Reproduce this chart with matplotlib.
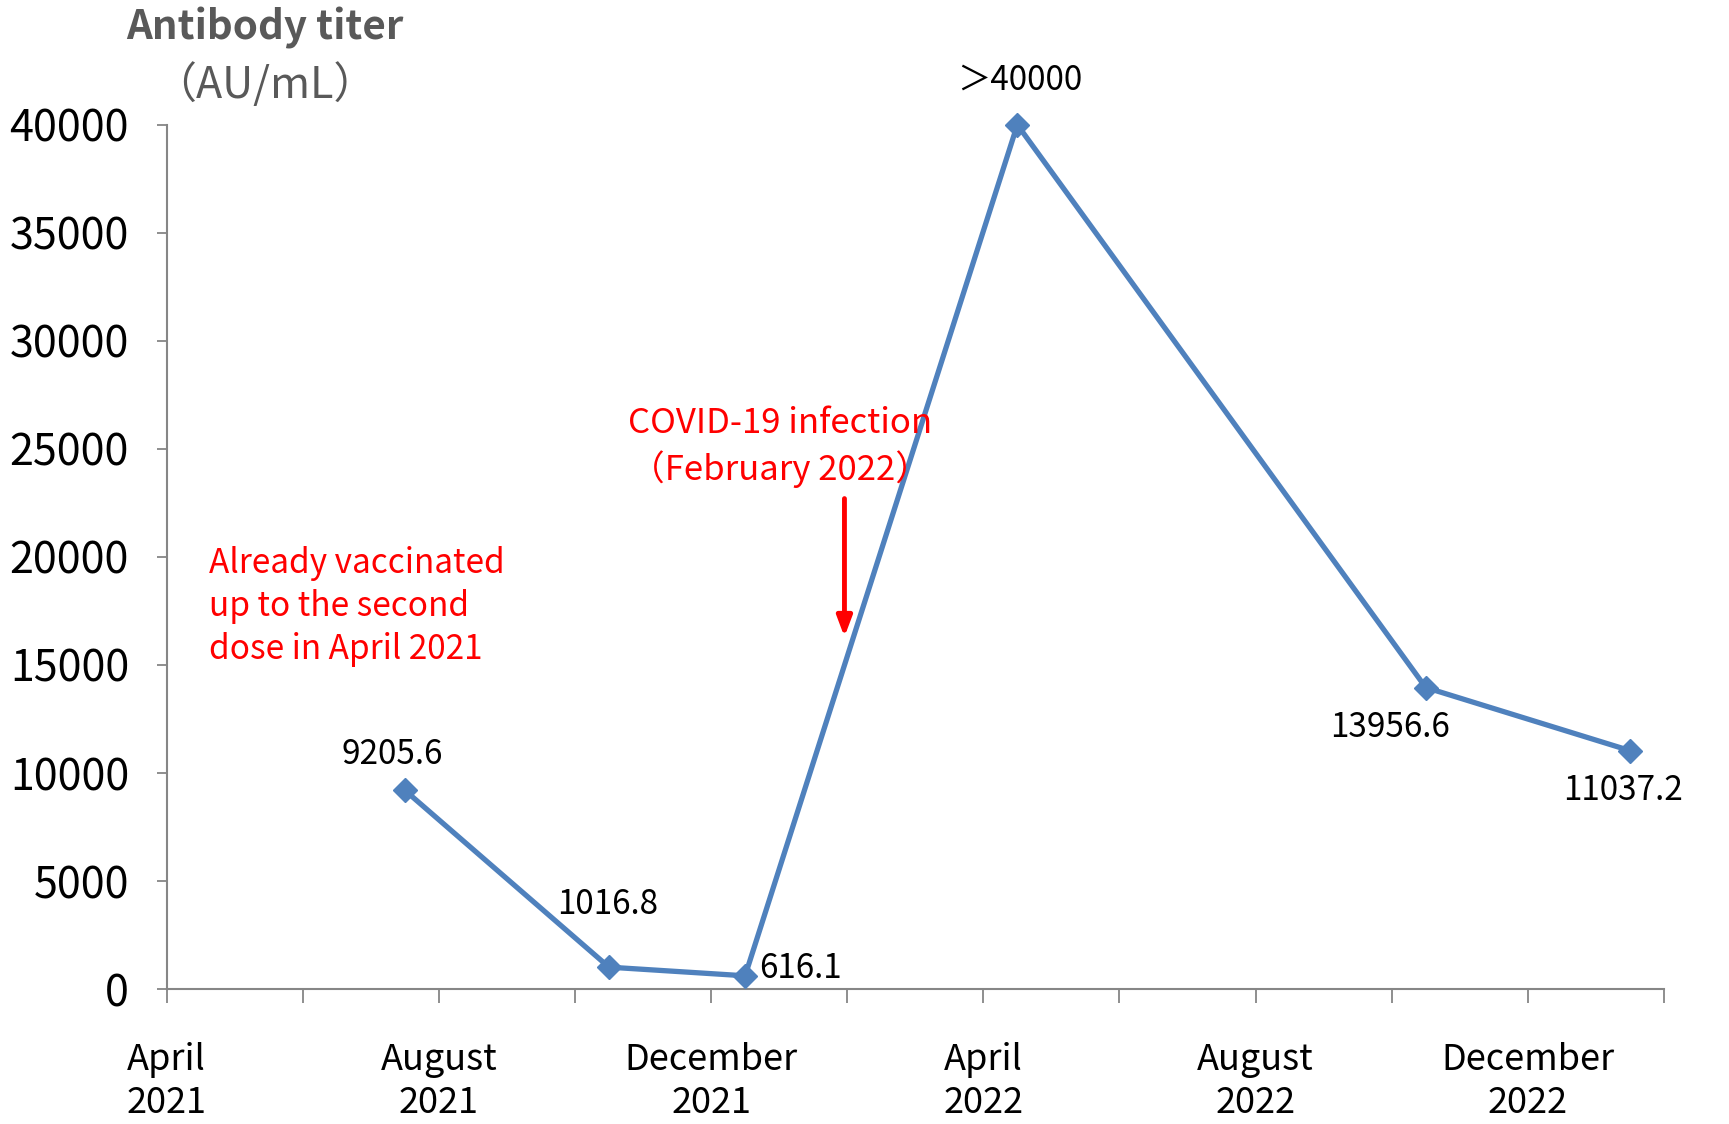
import matplotlib
matplotlib.use("Agg")
import matplotlib.pyplot as plt

# months after April 2021
months = [3.5, 6.5, 8.5, 12.5, 18.5, 21.5]
titer = [9205.6, 1016.8, 616.1, 40000, 13956.6, 11037.2]
point_labels = ["9205.6", "1016.8", "616.1", "＞40000", "13956.6", "11037.2"]
label_offsets = [(-9, 26), (-1, 45), (40, 5), (2, 32), (-26, -29), (-5, -29)]

tick_months = list(range(0, 23, 2))
tick_names = {0: "April\n2021", 4: "August\n2021", 8: "December\n2021",
              12: "April\n2022", 16: "August\n2022", 20: "December\n2022"}
yticks = list(range(0, 40001, 5000))

jp = ["Noto Sans CJK JP", "DejaVu Sans"]
blue = "#4F81BD"
grey = "#868686"

fig = plt.figure(figsize=(17.29, 11.24), dpi=100)
ax = fig.add_axes([0.0963, 0.120, 0.8661, 0.769])

ax.plot(months, titer, color=blue, lw=3.8, marker="D", ms=12, clip_on=False, zorder=3)

for x, y, s, (dx, dy) in zip(months, titer, point_labels, label_offsets):
    ax.annotate(s, (x, y), xytext=(dx, dy), textcoords="offset points",
                ha="center", va="center", fontsize=24, family=jp)

ax.set_xlim(0, 22)
ax.set_ylim(0, 40000)
ax.set_xticks(tick_months)
ax.set_xticklabels([tick_names.get(m, "") for m in tick_months], family=jp,
                   fontsize=26, linespacing=1.25)
ax.set_yticks(yticks)
ax.set_yticklabels([str(v) for v in yticks], family=jp, fontsize=31)
ax.tick_params(axis="x", direction="out", length=10, width=1.3, color=grey, pad=28)
ax.tick_params(axis="y", direction="out", length=7, width=1.3, color=grey, pad=20)

for side in ["top", "right"]:
    ax.spines[side].set_visible(False)
for side in ["left", "bottom"]:
    ax.spines[side].set_color(grey)
    ax.spines[side].set_linewidth(1.5)

# annotations
ax.text(0.62, 17700, "Already vaccinated\nup to the second\ndose in April 2021",
        color="red", fontsize=24, family=jp, ha="left", va="center", linespacing=1.3)
ax.text(9.02, 25100, "COVID-19 infection\n（February 2022）", color="red", fontsize=25,
        family=jp, ha="center", va="center", multialignment="center", linespacing=1.3)
ax.annotate("", xy=(9.96, 16300), xytext=(9.96, 22700),
            arrowprops=dict(arrowstyle="-|>,head_length=1.2,head_width=0.45",
                            color="red", lw=3.5, shrinkA=0, shrinkB=0))

fig.text(0.153, 0.975, "Antibody titer", ha="center", va="center", fontsize=29,
         fontweight="bold", color="#595959", family=jp)
fig.text(0.153, 0.924, "（AU/mL）", ha="center", va="center", fontsize=31,
         color="#595959", family=jp)

fig.savefig("out.png", dpi=100)
